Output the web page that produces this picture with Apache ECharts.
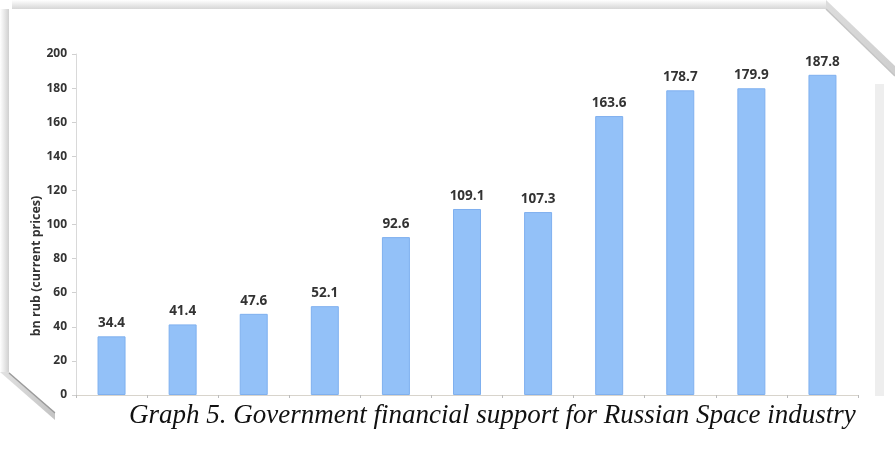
<!DOCTYPE html>
<html>
<head>
<meta charset="utf-8">
<script src="https://cdn.jsdelivr.net/npm/echarts@6/dist/echarts.min.js"></script>
<style>
html,body{margin:0;padding:0;background:#fff;}
#chart{width:895px;height:451px;}
</style>
</head>
<body>
<div id="chart"></div>
<script>
const categories = ['1','2','3','4','5','6','7','8','9','10','11'];
const values = [34.4, 41.4, 47.6, 52.1, 92.6, 109.1, 107.3, 163.6, 178.7, 179.9, 187.8];
const yTicks = { min: 0, max: 200, interval: 20 };
const yAxisName = 'bn rub (current prices)';
const caption = 'Graph 5. Government financial support for Russian Space industry';

const chart = echarts.init(document.getElementById('chart'), null, {renderer: 'canvas'});
chart.setOption({
  backgroundColor: '#ffffff',
  animation: false,
  title: {
    text: caption,
    left: 124,
    top: 397,
    textStyle: {
      fontFamily: 'Liberation Serif',
      fontStyle: 'italic',
      fontWeight: 'normal',
      fontSize: 27,
      color: '#111'
    }
  },
  grid: { left: 76, right: 37, top: 54, bottom: 56 },
  xAxis: {
    type: 'category',
    data: categories,
    axisLine: { lineStyle: { color: '#d8d4cc', width: 1 } },
    axisTick: { show: true, length: 3, lineStyle: { color: '#bbb' } },
    axisLabel: { show: false },
    splitLine: { show: false }
  },
  yAxis: {
    type: 'value',
    min: yTicks.min, max: yTicks.max, interval: yTicks.interval,
    axisLine: { show: true, lineStyle: { color: '#d9d9d9' } },
    axisTick: { show: true, length: 4, lineStyle: { color: '#d0d0d0' } },
    axisLabel: { margin: 9, color: '#333', fontFamily: 'Open Sans', fontWeight: 'bold', fontSize: 12 },
    splitLine: { show: false }
  },
  series: [{
    type: 'bar',
    data: values,
    barWidth: 28,
    itemStyle: { color: '#93c1f8', borderColor: '#7fb0ef', borderWidth: 1 },
    label: {
      show: true,
      position: 'top',
      distance: 6,
      color: '#333',
      fontFamily: 'Open Sans',
      fontWeight: 'bold',
      fontSize: 13.5,
      formatter: p => p.value.toFixed(1)
    }
  }],
  graphic: [
    { type: 'rect', shape: { x: 12, y: 0, width: 815, height: 9 }, z: -1,
      style: { fill: new echarts.graphic.LinearGradient(0,0,0,1,[{offset:0,color:'#ffffff'},{offset:1,color:'#d6d6d6'}]) } },
    { type: 'rect', shape: { x: 0, y: 9, width: 9, height: 364 }, z: -1,
      style: { fill: new echarts.graphic.LinearGradient(0,0,1,0,[{offset:0,color:'#ffffff'},{offset:1,color:'#d0d0d0'}]) } },
    { type: 'rect', shape: { x: 9, y: 9, width: 818, height: 364 }, z: -2, style: { fill: '#fff' } },
    { type: 'polygon', shape: { points: [[0,372],[9,372],[55,412],[55,420]] }, z: -1,
      style: { fill: new echarts.graphic.LinearGradient(0,0,1,0,[{offset:0,color:'#e2e2e2'},{offset:1,color:'#c4c4c4'}]) } },
    { type: 'line', shape: { x1: 9, y1: 373, x2: 55, y2: 413 }, z: -1,
      style: { stroke: '#9a9a9a', lineWidth: 1.2 } },
    { type: 'polygon', shape: { points: [[826,0],[826,9],[895,76],[895,66]] }, z: -1,
      style: { fill: new echarts.graphic.LinearGradient(0,0,1,0,[{offset:0,color:'#dcdcdc'},{offset:1,color:'#cfcfcf'}]) } },
    { type: 'line', shape: { x1: 826, y1: 9, x2: 895, y2: 76 }, z: -1,
      style: { stroke: '#c4c4c4', lineWidth: 1.5 } },
    { type: 'rect', shape: { x: 875, y: 84, width: 9, height: 312 }, z: -1,
      style: { fill: '#eeeeee' } },
    { type: 'text', x: 36, y: 266, rotation: Math.PI / 2,
      style: { text: yAxisName, fontFamily: 'Open Sans', fontSize: 12.5, fontWeight: 'bold', fill: '#333', align: 'center', verticalAlign: 'middle' } }
  ]
});
</script>
</body>
</html>
